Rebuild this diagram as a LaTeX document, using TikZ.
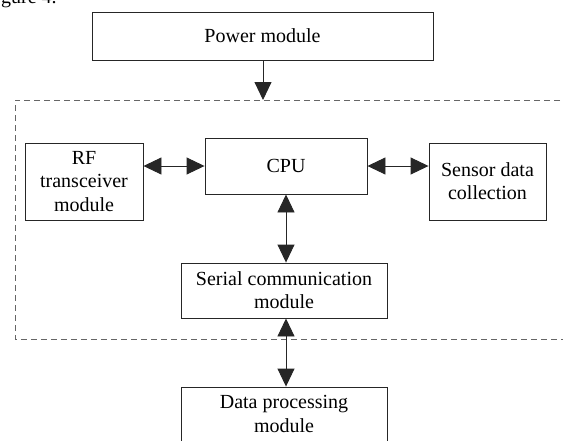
\documentclass[tikz,border=0pt]{standalone}
\usepackage{fontspec}
\setmainfont{Liberation Serif}
\usetikzlibrary{arrows.meta}
\begin{document}
\begin{tikzpicture}[x=1pt,y=-1pt,
  box/.style={draw=black!85, line width=0.9pt, align=center, inner sep=0pt,
    font=\fontsize{20}{23.3}\selectfont},
  arr/.style={line width=0.9pt, draw=black!85, -{Triangle[length=18pt,width=17pt]}},
  darr/.style={line width=0.9pt, draw=black!85, {Triangle[length=18pt,width=17pt]}-{Triangle[length=18pt,width=17pt]}},
  dashline/.style={draw=black!60, line width=0.9pt, dash pattern=on 6pt off 4pt}]
\useasboundingbox (0,0) rectangle (563,440);
\clip (0,0) rectangle (563,440);
\node[anchor=base west, inner sep=0pt, font=\fontsize{20}{22}\selectfont] (cap) at (1,3) {gure 4.};
\node[box, minimum width=341pt, minimum height=48pt] (power) at (262.5,36) {Power module};
\node[box, minimum width=118pt, minimum height=77pt] (rf) at (84,181.5) {RF\\transceiver\\module};
\node[box, minimum width=162pt, minimum height=56pt] (cpu) at (286,166) {CPU};
\node[box, minimum width=117pt, minimum height=77pt] (sensor) at (487.5,181.5) {Sensor data\\collection};
\node[box, minimum width=206pt, minimum height=55pt] (serial) at (284,290.5) {Serial communication\\module};
\node[box, minimum width=206pt, minimum height=54pt] (data) at (284,414) {Data processing\\module};
% dashed enclosure
\coordinate (tl) at (15,100);
\coordinate (bl) at (15,339);
\coordinate (tr) at (570,100);
\coordinate (br) at (570,339);
\draw[dashline] (tr) -- (tl) -- (bl) -- (br);
\coordinate (pin) at (263,100);
\draw[arr] (power.south -| pin) -- (pin);
\draw[darr] (rf.east |- cpu.west) -- (cpu.west);
\draw[darr] (cpu.east) -- (sensor.west |- cpu.east);
\draw[darr] (cpu.south) -- (cpu.south |- serial.north);
\draw[darr] (serial.south -| cpu.south) -- (data.north -| cpu.south);
\end{tikzpicture}
\end{document}
